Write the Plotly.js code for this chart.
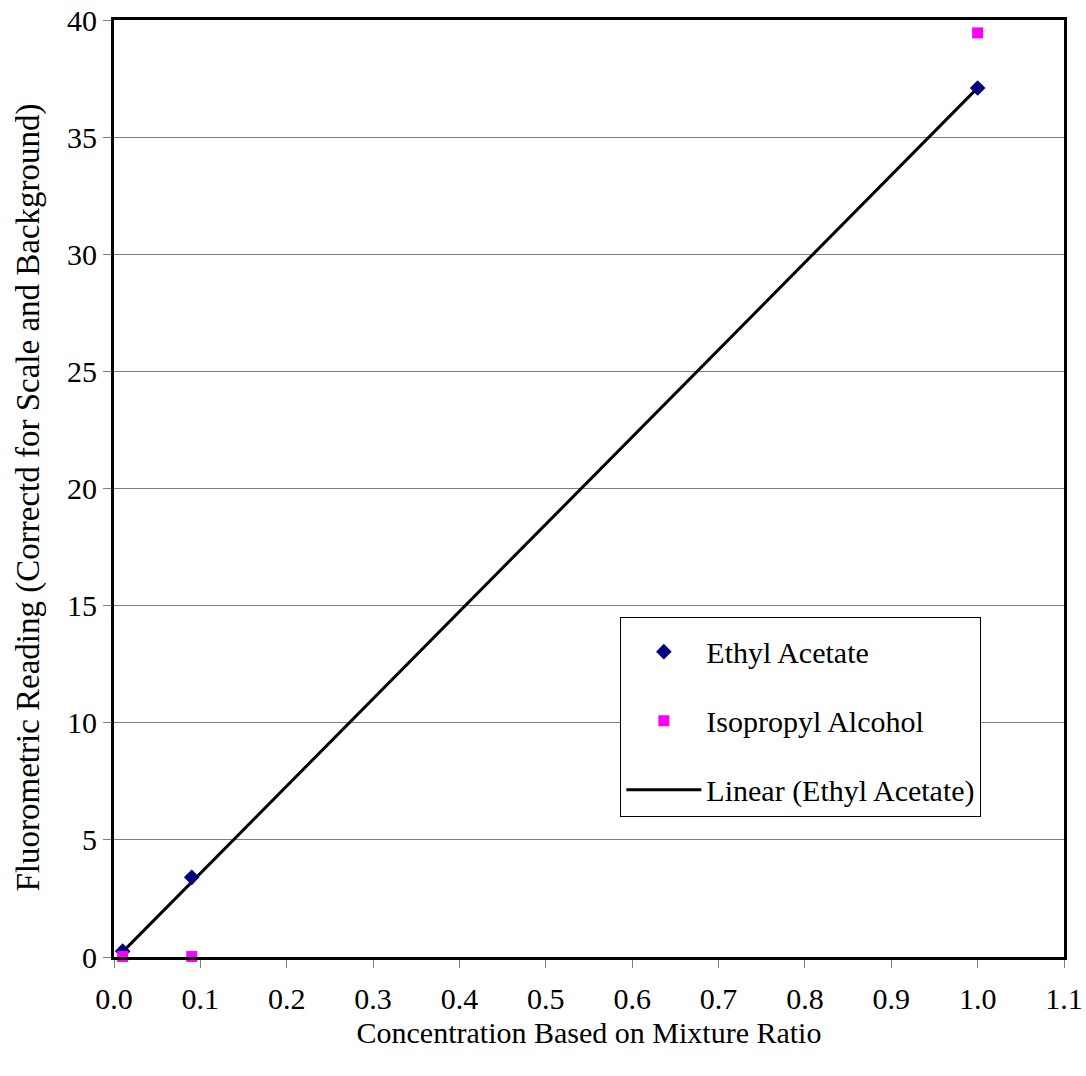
<!DOCTYPE html>
<html>
<head>
<meta charset="utf-8">
<script src="https://cdn.plot.ly/plotly-3.0.1.min.js"></script>
<style>body{margin:0;padding:0;background:#fff;}</style>
</head>
<body>
<div id="chart" style="width:1086px;height:1076px;"></div>
<script>
const ethylX = [0.01, 0.09, 1.0];
const ethylY = [0.25, 3.4, 37.1];
const isoX = [0.01, 0.09, 1.0];
const isoY = [0.02, 0.02, 39.45];
const trendX = [0.01, 1.0];
const trendY = [0.22, 37.1];
const yTitle = 'Fluorometric Reading (Correctd for Scale and Background)';
const xTitle = 'Concentration Based on Mixture Ratio';

const fontFam = "'Liberation Serif', 'Times New Roman', serif";

const trend = {x: trendX, y: trendY, type: 'scatter', mode: 'lines', name: 'Linear (Ethyl Acetate)',
   line: {color: '#000000', width: 3}, legendgroup: 'c', legendrank: 3};
const ethyl = {x: ethylX, y: ethylY, type: 'scatter', mode: 'markers', name: 'Ethyl Acetate',
   marker: {symbol: 'diamond', color: '#000080', size: 12}, legendgroup: 'a', legendrank: 1, cliponaxis: false};
const iso = {x: isoX, y: isoY, type: 'scatter', mode: 'markers', name: 'Isopropyl Alcohol',
   marker: {symbol: 'square', color: '#FF00FF', size: 11}, legendgroup: 'b', legendrank: 2, cliponaxis: false};

const layout = {
  width: 1086, height: 1076,
  margin: {l: 114, r: 22, t: 20, b: 119},
  paper_bgcolor: '#ffffff', plot_bgcolor: '#ffffff',
  font: {family: fontFam, size: 30, color: '#000000'},
  showlegend: true,
  legend: {
    x: 0.533, y: 0.363, xanchor: 'left', yanchor: 'top',
    bgcolor: '#ffffff', bordercolor: '#000000', borderwidth: 1,
    font: {family: fontFam, size: 30, color: '#000000'},
    title: {text: ' ', font: {size: 6}},
    traceorder: 'grouped', tracegroupgap: 27,
    itemwidth: 75
  },
  xaxis: {
    range: [0, 1.1], dtick: 0.1, tick0: 0, tickformat: '.1f',
    showgrid: false, zeroline: false,
    showline: true, mirror: true, linecolor: '#000000', linewidth: 3,
    ticks: 'outside', ticklen: 8, tickcolor: '#808080', tickwidth: 1,
    ticklabelstandoff: 5,
    tickfont: {family: fontFam, size: 30},
    title: {text: xTitle, font: {family: fontFam, size: 30}, standoff: 8}
  },
  yaxis: {
    range: [0, 40], dtick: 5, tick0: 0,
    showgrid: true, gridcolor: '#808080', gridwidth: 1, zeroline: false,
    showline: true, mirror: true, linecolor: '#000000', linewidth: 3,
    ticks: 'outside', ticklen: 8, tickcolor: '#808080', tickwidth: 1,
    tickfont: {family: fontFam, size: 30}
  },
  annotations: [{
    text: yTitle, xref: 'paper', yref: 'paper', x: -0.0905, y: 0.4904,
    xanchor: 'center', yanchor: 'middle', textangle: -90, showarrow: false,
    font: {family: fontFam, size: 33, color: '#000000'}
  }]
};

Plotly.newPlot('chart', [trend, ethyl, iso], layout, {displayModeBar: false, staticPlot: true});
</script>
</body>
</html>
